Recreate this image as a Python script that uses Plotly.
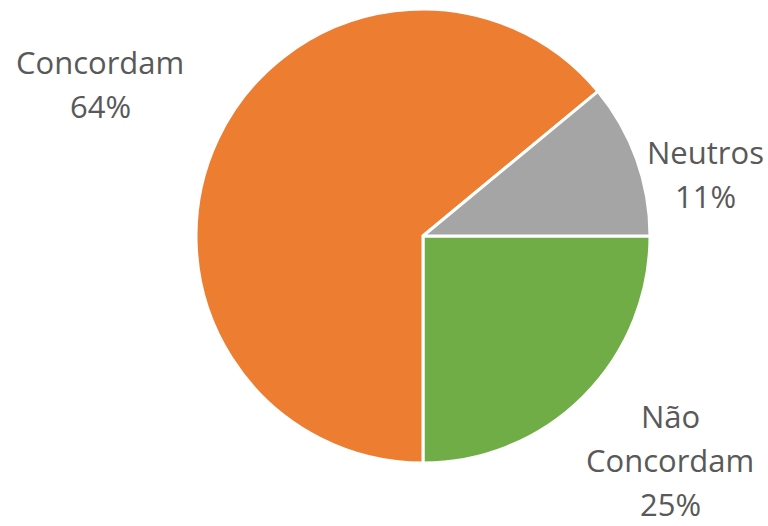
import plotly.graph_objects as go

# Survey response shares (percent)
categories = ["Não Concordam", "Concordam", "Neutros"]
values = [25, 64, 11]
colors = ["#70AD47", "#ED7D31", "#A5A5A5"]

# Label line breaks and their centre positions (pixels in a 768x526 canvas)
label_lines = {
    "Concordam": ["Concordam"],
    "Neutros": ["Neutros"],
    "Não Concordam": ["Não", "Concordam"],
}
label_pos = {
    "Concordam": (100, 62),
    "Neutros": (705, 152),
    "Não Concordam": (670, 416),
}
LINE_STEP = 44

W, H = 768, 526
cx, cy, r = 423, 236, 227

fig = go.Figure(
    go.Pie(
        labels=categories,
        values=values,
        marker=dict(colors=colors, line=dict(color="white", width=3)),
        sort=False,
        direction="clockwise",
        rotation=90,
        textinfo="none",
        showlegend=False,
        domain=dict(
            x=[(cx - r) / W, (cx + r) / W],
            y=[(H - cy - r) / H, (H - cy + r) / H],
        ),
    )
)

total = sum(values)
annotations = []
for cat, val in zip(categories, values):
    lines = label_lines[cat] + [f"{round(100 * val / total)}%"]
    x0, y0 = label_pos[cat]
    for i, line in enumerate(lines):
        annotations.append(
            dict(
                text=line,
                x=x0 / W,
                y=1 - (y0 + i * LINE_STEP) / H,
                xref="paper",
                yref="paper",
                xanchor="center",
                yanchor="middle",
                showarrow=False,
                font=dict(family="Open Sans", size=31, color="#595959"),
            )
        )

fig.update_layout(
    width=W,
    height=H,
    margin=dict(l=0, r=0, t=0, b=0),
    paper_bgcolor="white",
    plot_bgcolor="white",
    annotations=annotations,
)

fig.write_html("out.html")
